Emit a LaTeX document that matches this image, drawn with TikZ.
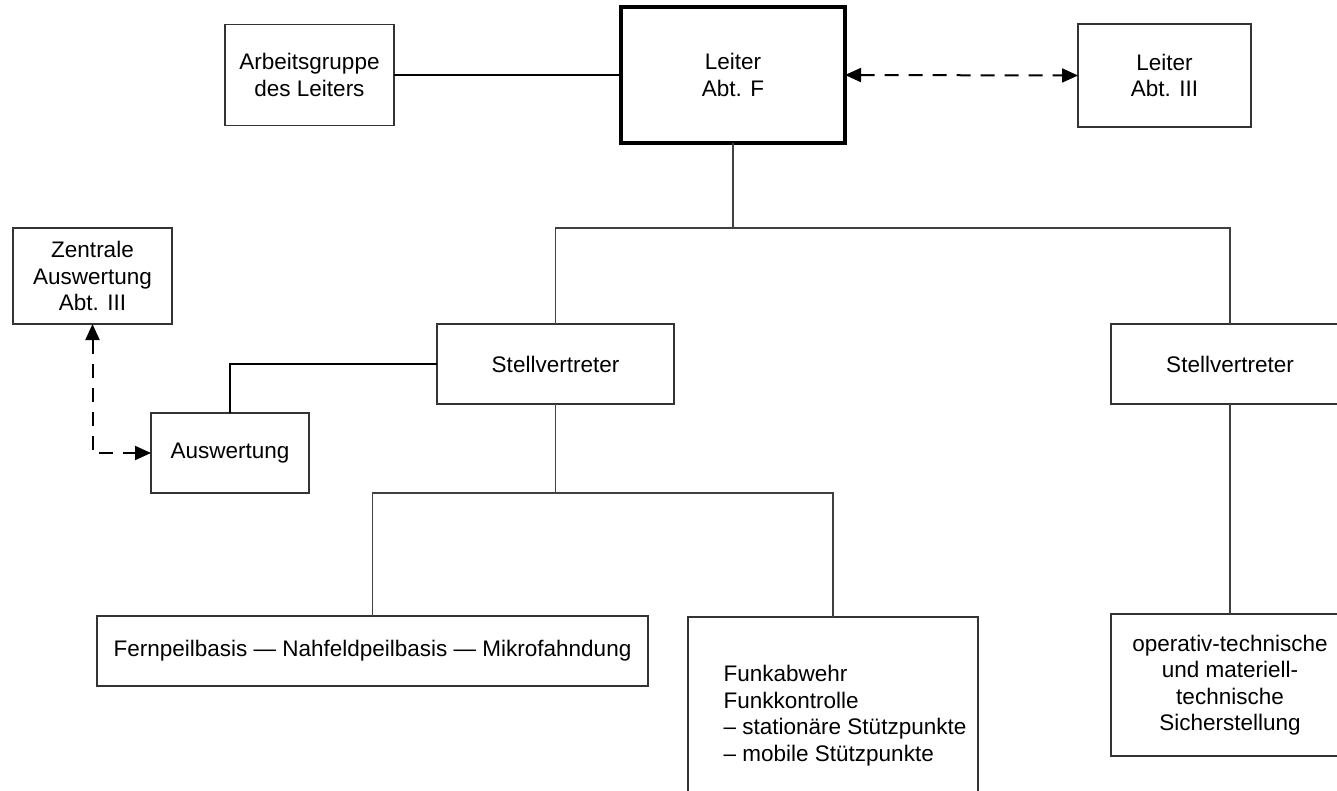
\documentclass[tikz,border=0pt]{standalone}
\usepackage{fontspec}
\setmainfont{Liberation Sans}
\usetikzlibrary{arrows.meta}
\begin{document}
\begin{tikzpicture}[x=1pt,y=-1pt,
  box/.style={draw=black!80,line width=1.3pt,fill=white,inner sep=0pt,outer sep=0pt,
    align=center,font=\fontsize{22.5}{26.5}\selectfont},
  headbox/.style={box,draw=black,line width=4.5pt},
  link/.style={draw=black!75,line width=1.3pt},
  boldlink/.style={draw=black,line width=2pt},
  dashlink/.style={draw=black,line width=2pt,dash pattern=on 14pt off 10pt,
    {Triangle[length=16pt,width=14pt]}-{Triangle[length=16pt,width=14pt]}}]
\useasboundingbox (0,0) rectangle (1337,790);
\clip (0,0) rectangle (1337,790);

% boxes
\node[box,minimum width=169pt,minimum height=101pt] (arb) at (309.5,75) {Arbeitsgruppe\\des Leiters};
\node[headbox,minimum width=224pt,minimum height=136pt] (lf) at (733,75) {Leiter\\Abt. F};
\node[box,minimum width=173pt,minimum height=103pt] (l3) at (1164.5,75.5) {Leiter\\Abt. III};
\node[box,minimum width=159pt,minimum height=96pt] (zen) at (92.5,276) {Zentrale\\Auswertung\\Abt. III};
\node[box,minimum width=237pt,minimum height=80pt] (st1) at (555.5,364) {Stellvertreter};
\node[box,minimum width=158pt,minimum height=80pt] (ausw) at (230,453) {Auswertung};
\node[box,minimum width=238pt,minimum height=80pt] (st2) at (1230,364) {Stellvertreter};
\node[box,minimum width=551pt,minimum height=70pt] (fern) at (372.5,651) {Fernpeilbasis — Nahfeldpeilbasis — Mikrofahndung};
\node[box,minimum width=290pt,minimum height=198pt] (funk) at (833,716)
  {\hspace*{24pt}\begin{tabular}{@{}l@{}}Funkabwehr\\Funkkontrolle\\– stationäre Stützpunkte\\– mobile Stützpunkte\end{tabular}};
\node[box,minimum width=238pt,minimum height=142pt] (op) at (1230,685)
  {operativ-technische\\und materiell-\\technische\\Sicherstellung};

% junctions
\coordinate (j1) at (lf.south |- 0,228);
\coordinate (j2) at (st1.south |- 0,493);

% connectors
\draw[boldlink] (arb.east) -- (lf.west);
\draw[dashlink] (lf.east) -- (l3.west);
\draw[link] (lf.south) -- (j1);
\draw[link] (st1.north) |- (j1) -| (st2.north);
\draw[boldlink] (ausw.north) |- (st1.west);
\draw[dashlink] (zen.south) |- (ausw.west);
\draw[link] (st1.south) -- (j2);
\draw[link] (fern.north) |- (j2) -| (funk.north);
\draw[link] (st2.south) -- (op.north);
\end{tikzpicture}
\end{document}
